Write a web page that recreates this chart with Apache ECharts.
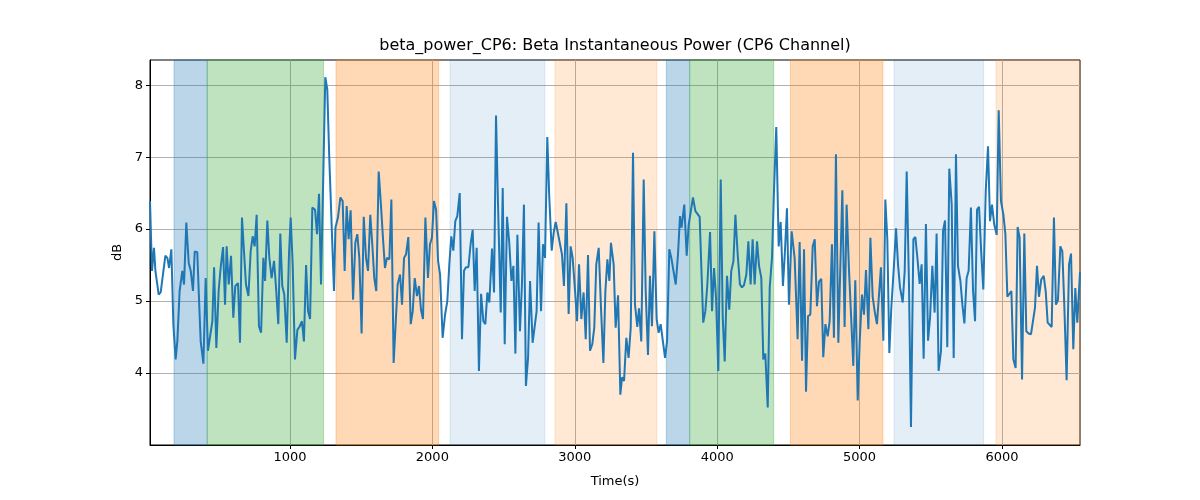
<!DOCTYPE html>
<html>
<head>
<meta charset="utf-8">
<script src="https://cdn.jsdelivr.net/npm/echarts@6/dist/echarts.min.js"></script>
<style>html,body{margin:0;padding:0;background:#fff;}#chart{width:1200px;height:500px;}</style>
</head>
<body>
<div id="chart"></div>
<script>
const titleText = 'beta_power_CP6: Beta Instantaneous Power (CP6 Channel)';
const xLabel = 'Time(s)';
const yLabel = 'dB';
const xMin = 17, xMax = 6548;
const yMin = 3.0, yMax = 8.35;
const xTicks = [1000, 2000, 3000, 4000, 5000, 6000];
const yTicks = [4, 5, 6, 7, 8];

const times = [17,31,45,55,78,92,125,139,151,167,181,197,209,225,244,256,272,289,303,319,331,349,359,373,392,408,424,438,455,467,483,499,513,530,544,555,570,586,602,616,635,649,663,677,691,708,724,738,752,766,782,797,813,825,841,855,871,888,902,918,932,946,960,977,993,1005,1019,1035,1052,1066,1084,1098,1113,1127,1141,1157,1176,1190,1204,1218,1248,1262,1276,1309,1319,1337,1354,1370,1384,1398,1412,1426,1443,1459,1473,1487,1503,1518,1534,1548,1564,1578,1592,1606,1623,1637,1653,1667,1681,1698,1712,1728,1742,1756,1773,1787,1801,1815,1831,1848,1862,1876,1892,1906,1920,1934,1951,1969,1983,1997,2011,2026,2040,2054,2072,2089,2105,2119,2133,2147,2161,2175,2192,2208,2222,2236,2253,2269,2283,2297,2311,2327,2342,2358,2372,2386,2400,2419,2433,2447,2461,2480,2494,2508,2524,2540,2555,2569,2583,2597,2615,2629,2643,2657,2672,2686,2704,2718,2732,2746,2763,2777,2791,2807,2821,2838,2852,2866,2880,2894,2910,2924,2941,2957,2971,2985,3002,3016,3030,3046,3062,3077,3093,3107,3123,3137,3151,3168,3184,3201,3215,3229,3243,3254,3273,3287,3304,3320,3332,3346,3362,3378,3393,3409,3423,3439,3451,3467,3484,3498,3514,3528,3542,3559,3575,3589,3603,3617,3634,3648,3664,3678,3692,3709,3725,3739,3750,3769,3786,3800,3814,3830,3847,3877,3902,3917,3931,3950,3964,3978,3992,4008,4025,4039,4053,4069,4085,4099,4114,4128,4144,4160,4174,4188,4205,4219,4235,4249,4263,4280,4294,4310,4324,4338,4355,4369,4385,4399,4415,4432,4446,4462,4476,4490,4504,4523,4544,4565,4579,4596,4610,4624,4638,4654,4671,4685,4701,4715,4731,4745,4760,4776,4790,4806,4820,4834,4851,4879,4895,4909,4926,4940,4956,4970,4987,5001,5017,5031,5045,5062,5076,5092,5106,5122,5136,5150,5167,5181,5195,5209,5223,5242,5256,5270,5284,5303,5317,5331,5347,5361,5378,5392,5406,5422,5436,5450,5466,5481,5495,5511,5527,5541,5555,5572,5586,5600,5616,5630,5647,5661,5677,5691,5708,5722,5736,5752,5766,5782,5797,5811,5825,5839,5855,5869,5886,5902,5916,5930,5946,5963,5977,5993,6010,6024,6038,6052,6066,6080,6096,6110,6124,6141,6157,6171,6187,6204,6218,6232,6246,6260,6276,6293,6307,6321,6335,6349,6365,6379,6393,6410,6424,6438,6454,6471,6485,6501,6515,6529,6548];

const power = [6.39,5.42,5.74,5.42,5.09,5.12,5.63,5.60,5.46,5.72,4.68,4.19,4.44,5.14,5.42,5.23,6.09,5.53,5.42,5.14,5.69,5.68,5.14,4.44,4.13,5.32,4.31,4.33,4.72,5.47,4.35,5.14,5.46,5.75,4.95,5.76,5.23,5.63,4.77,5.21,5.25,4.42,6.16,5.69,5.23,5.07,5.69,5.90,5.76,6.20,4.65,4.56,5.60,5.28,6.12,5.60,5.32,5.56,5.19,4.68,5.94,5.21,5.09,4.42,5.65,6.16,5.51,4.19,4.60,4.64,4.72,4.44,5.50,4.86,4.75,6.30,6.27,5.93,6.49,5.23,8.11,7.94,6.99,5.14,6.02,6.16,6.44,6.39,5.42,6.32,5.86,6.26,5.02,5.81,5.93,5.60,4.55,6.17,5.60,5.42,6.20,5.79,5.32,5.14,6.80,6.39,5.88,5.46,5.60,5.58,6.41,4.14,4.68,5.23,5.37,4.95,5.60,5.65,5.89,4.68,4.86,5.32,5.07,5.21,4.88,4.75,6.16,5.32,5.79,5.88,6.39,6.27,5.56,5.37,4.49,4.81,5.00,5.51,5.90,5.70,6.11,6.18,6.50,4.47,5.42,5.47,5.47,5.80,5.99,5.14,5.74,4.03,5.10,4.72,4.68,5.12,4.98,5.73,5.12,7.58,6.34,4.84,6.57,4.40,6.17,5.81,5.28,5.49,4.27,5.92,4.58,5.23,6.34,3.82,4.21,5.28,4.42,4.41,4.86,6.09,4.86,5.79,5.60,7.28,6.44,5.70,5.95,6.10,5.96,5.95,5.65,5.21,6.36,4.82,5.76,5.60,5.14,4.72,5.51,4.75,5.12,4.47,5.64,4.31,4.40,4.63,5.51,5.74,4.91,4.14,5.14,5.58,5.28,5.81,5.51,4.63,5.08,3.70,3.94,3.89,4.49,4.21,4.63,7.06,4.95,4.64,4.90,4.44,6.69,5.14,4.25,5.35,4.65,5.97,4.75,4.56,4.68,4.70,4.21,4.44,5.72,5.60,5.61,5.23,5.65,6.18,6.02,6.34,5.63,6.06,6.06,6.44,6.25,6.17,4.70,4.86,5.23,5.96,4.86,5.46,5.05,4.03,6.69,4.77,4.16,5.35,4.88,5.42,5.55,6.20,5.65,5.23,5.19,5.22,5.37,5.83,5.23,5.86,5.23,5.83,5.49,5.32,4.19,4.27,3.52,5.19,5.60,6.53,7.42,5.76,6.10,5.21,5.69,6.29,4.95,5.97,5.60,4.47,5.82,4.17,5.72,3.74,4.79,4.81,5.76,5.86,4.93,5.27,5.31,4.22,4.68,4.51,4.72,5.79,4.49,7.04,4.42,6.54,4.64,6.34,5.42,4.81,4.10,5.29,3.62,4.44,5.09,4.81,5.43,4.61,5.88,5.06,4.86,4.68,4.69,5.47,4.45,6.41,5.86,4.28,4.91,5.51,6.01,5.51,5.19,4.98,5.42,6.80,5.23,3.25,5.86,5.89,5.60,5.24,5.51,4.20,6.07,4.45,4.77,5.49,4.84,5.94,4.03,4.31,5.97,6.12,4.36,6.84,6.34,4.21,7.04,5.49,5.28,4.95,4.69,5.32,5.42,6.30,5.14,4.72,6.27,6.31,5.65,5.16,6.53,7.15,6.11,6.34,6.06,5.92,7.65,6.39,6.20,5.93,5.06,5.08,5.14,4.19,4.07,6.03,5.88,3.91,5.94,4.58,4.55,4.54,4.55,4.91,5.49,5.06,5.30,5.35,5.14,4.70,4.72,4.64,6.16,4.95,5.01,5.76,5.69,4.93,3.90,5.51,5.66,4.33,5.18,4.70,5.40];

// shaded phases: start, end, kind
const spanStarts = [186, 419, 1323, 2124, 2861, 3643, 3807, 4514, 5242, 5958];
const spanEnds   = [419, 1236, 2044, 2791, 3577, 3807, 4397, 5164, 5871, 6548];
const spanKinds  = ['blue', 'green', 'orange', 'lightblue', 'lightorange', 'blue', 'green', 'orange', 'lightblue', 'lightorange'];

const spanColors = {
  blue: 'rgba(31,119,180,0.3)',
  green: 'rgba(44,160,44,0.3)',
  orange: 'rgba(255,127,14,0.3)',
  lightblue: 'rgba(31,119,180,0.12)',
  lightorange: 'rgba(255,127,14,0.18)'
};

const lineData = times.map((t, i) => [t, power[i]]);
const areas = spanStarts.map((s, i) => [
  { xAxis: s, itemStyle: { color: spanColors[spanKinds[i]], borderColor: spanColors[spanKinds[i]], borderWidth: 1 } },
  { xAxis: spanEnds[i] }
]);

const font = 'DejaVu Sans';
const chart = echarts.init(document.getElementById('chart'), null, { renderer: 'canvas' });
chart.setOption({
  animation: false,
  backgroundColor: '#fff',
  graphic: [{
    type: 'text', x: 615, y: 46, z: 100,
    style: { text: titleText, fill: '#000', font: '16px "DejaVu Sans"', textAlign: 'center', textVerticalAlign: 'middle' }
  }],
  grid: { left: 150, right: 120, top: 60, bottom: 55, show: true, borderColor: '#000', borderWidth: 1, backgroundColor: 'transparent' },
  xAxis: {
    type: 'value', min: xMin, max: xMax, splitNumber: 6,
    name: xLabel, nameLocation: 'middle', nameGap: 30,
    nameTextStyle: { color: '#000', fontFamily: font, fontSize: 13 },
    axisLine: { show: true, lineStyle: { color: '#000', width: 1 } },
    axisTick: { show: true, length: 4, lineStyle: { color: '#000' }, customValues: xTicks },
    axisLabel: { color: '#000', fontFamily: font, fontSize: 13, margin: 6, customValues: xTicks,
      formatter: v => (xTicks.indexOf(v) >= 0 ? String(v) : '') },
    splitLine: { show: true, lineStyle: { color: '#b0b0b0', width: 1 } }
  },
  yAxis: {
    type: 'value', min: yMin, max: yMax,
    name: yLabel, nameLocation: 'middle', nameGap: 25, nameRotate: 90,
    nameTextStyle: { color: '#000', fontFamily: font, fontSize: 13 },
    axisLine: { show: true, lineStyle: { color: '#000', width: 1 } },
    axisTick: { show: true, length: 4, lineStyle: { color: '#000' }, customValues: yTicks },
    axisLabel: { color: '#000', fontFamily: font, fontSize: 13, margin: 7, customValues: yTicks,
      formatter: v => (yTicks.indexOf(v) >= 0 ? String(v) : '') },
    splitLine: { show: true, lineStyle: { color: '#b0b0b0', width: 1 } }
  },
  series: [
    {
      type: 'line', data: [], z: 1, silent: true,
      markArea: { silent: true, data: areas }
    },
    {
      type: 'line', data: lineData, z: 3, showSymbol: false, symbol: 'none',
      lineStyle: { color: '#1f77b4', width: 2 }, itemStyle: { color: '#1f77b4' }
    }
  ]
});
</script>
</body>
</html>
